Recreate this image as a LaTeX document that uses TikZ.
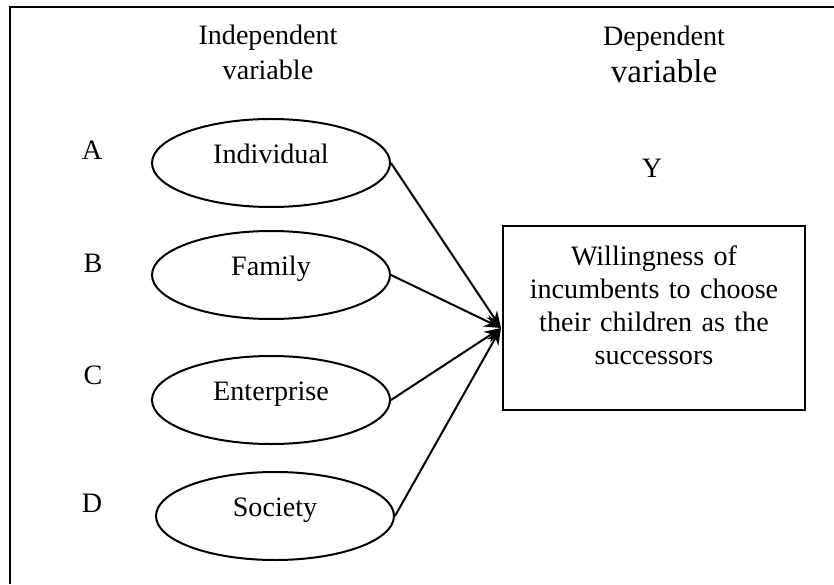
\documentclass[tikz,border=0pt]{standalone}
\usepackage{fontspec}
\setmainfont{Liberation Serif}
\usetikzlibrary{shapes.geometric,arrows.meta,positioning}

\begin{document}
\begin{tikzpicture}[
  every node/.style={font=\fontsize{20}{23.4}\selectfont},
  factor/.style={draw=cl,fill=cf,text=ct,line width=0.05cm,ellipse,inner sep=0pt,text height=0.49cm,text depth=0.455cm,minimum width=5.95cm,minimum height=2.2cm},
  target/.style={draw=cl,fill=cf,text=ct,line width=0.05cm,rectangle,text width=7.0cm,align=center,text depth=88.7pt,minimum width=7.55cm,minimum height=4.575cm},
  link/.style={draw=cl,line width=0.05cm,-{Stealth[length=0.42cm,width=0.32cm]}}
]
%
\useasboundingbox (0,0) rectangle (20.85cm,14.6cm);
%
\definecolor{cl}{rgb}{0.0,0.0,0.0}
\definecolor{cf}{rgb}{1.0,1.0,1.0}
\definecolor{ct}{rgb}{0.0,0.0,0.0}
%
\draw[cl,line width=0.05cm] (0.25cm,0cm) -- (0.25cm,14.425cm) -- (20.85cm,14.425cm);
%
\node[align=center,font=\fontsize{20}{24.5}\selectfont] (indep) at (6.70cm,13.29cm) {Independent\\variable};
\node[align=center,font=\fontsize{20}{26.3}\selectfont] (dep) at (16.60cm,13.25cm) {Dependent\\{\fontsize{23.5}{26.3}\selectfont variable}};
%
\node (la) at (2.30cm,10.85cm) {A};
\node (lb) at (2.325cm,8.025cm) {B};
\node (lc) at (2.325cm,5.225cm) {C};
\node (ld) at (2.30cm,2.025cm) {D};
\node (ly) at (16.30cm,10.40cm) {Y};
%
\node[factor] (ind) at (6.775cm,10.525cm) {Individual};
\node[factor] (fam) at (6.775cm,7.725cm) {Family};
\node[factor] (ent) at (6.775cm,4.60cm) {Enterprise};
\node[factor] (soc) at (6.875cm,1.70cm) {Society};
%
\node[target] (willing) at (16.35cm,6.65cm) {Willingness of\\incumbents to choose\\their children as the\\successors};
\coordinate (hub) at (12.525cm,6.40cm);
%
\draw[link] (ind.east) -- (hub);
\draw[link] (fam.east) -- (hub);
\draw[link] (ent.east) -- (hub);
\draw[link] (soc.east) -- (hub);
%
\end{tikzpicture}
\end{document}
